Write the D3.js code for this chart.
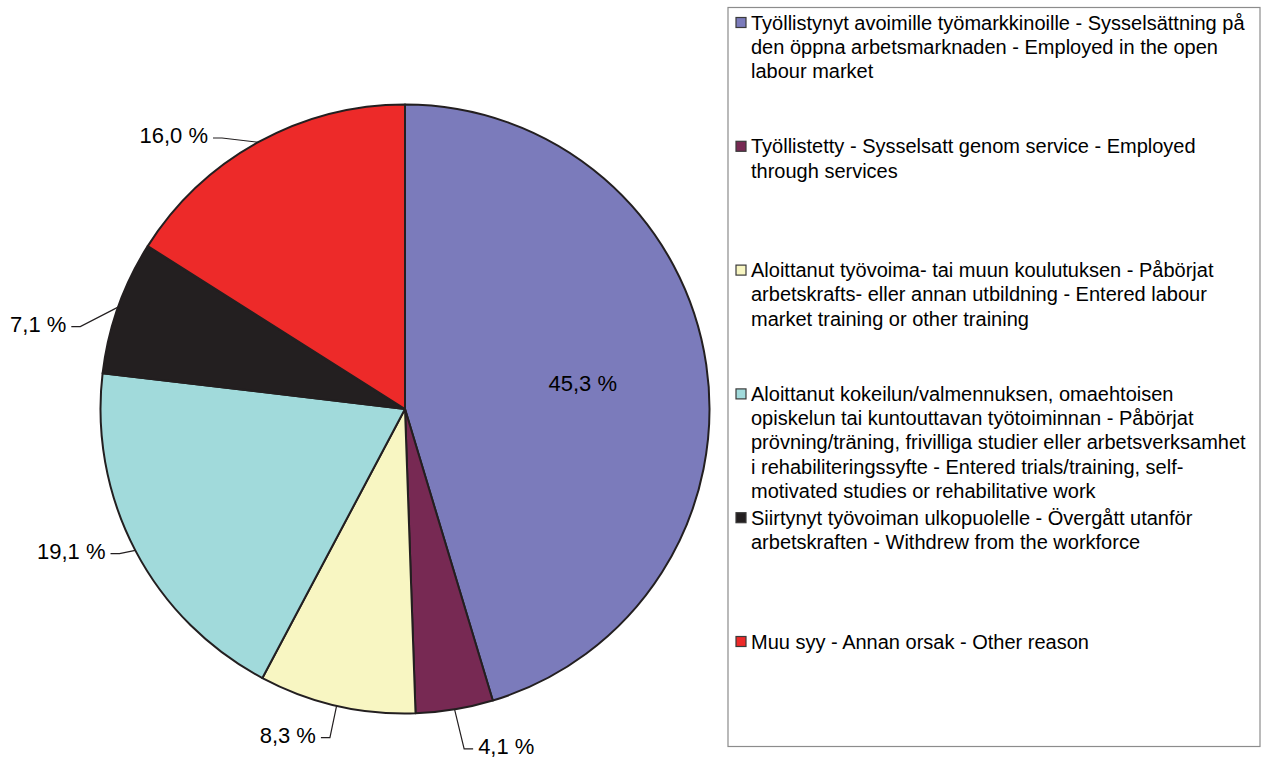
<!DOCTYPE html>
<html lang="fi">

<head>
    <meta charset="UTF-8" />
    <style>
        body { margin: 0; background: #fff; }
        text { font-family: Arial, "Liberation Sans", sans-serif; fill: #000; }
    </style>
</head>

<body>
    <svg width="1270" height="760"></svg>
    <script src="https://d3js.org/d3.v7.min.js"></script>
    <script>
        // categories, each already split into its legend lines
        var categories = [
            ["Työllistynyt avoimille työmarkkinoille - Sysselsättning på", "den öppna arbetsmarknaden - Employed in the open", "labour market"],
            ["Työllistetty - Sysselsatt genom service - Employed", "through services"],
            ["Aloittanut työvoima- tai muun koulutuksen - Påbörjat", "arbetskrafts- eller annan utbildning - Entered labour", "market training or other training"],
            ["Aloittanut kokeilun/valmennuksen, omaehtoisen", "opiskelun tai kuntouttavan työtoiminnan - Påbörjat", "prövning/träning, frivilliga studier eller arbetsverksamhet", "i rehabiliteringssyfte - Entered trials/training, self-", "motivated studies or rehabilitative work"],
            ["Siirtynyt työvoiman ulkopuolelle - Övergått utanför", "arbetskraften - Withdrew from the workforce"],
            ["Muu syy - Annan orsak - Other reason"]
        ];
        var values = [45.3, 4.1, 8.3, 19.1, 7.1, 16.0];
        var colors = ["#7b7bbb", "#772953", "#f8f6c2", "#a1dadb", "#231f20", "#ed2a29"];

        var svg = d3.select("svg");
        var cx = 405, cy = 409, r = 304.5;

        var pie = d3.pie().sort(null).value(function (d) { return d; });
        var arcs = pie(values);
        var arc = d3.arc().innerRadius(0).outerRadius(r);

        var g = svg.append("g").attr("transform", "translate(" + cx + "," + cy + ")");

        g.selectAll(".slice")
            .data(arcs)
            .enter().append("path")
            .attr("class", "slice")
            .attr("d", arc)
            .attr("fill", function (d, i) { return colors[i]; })
            .attr("stroke", "#231f20")
            .attr("stroke-width", 2)
            .attr("stroke-linejoin", "round");

        var fmt = function (v) { return d3.format(".1f")(v).replace(".", ",") + " %"; };

        // where Excel put the outside labels: radius of the leader bend and angle nudge (deg)
        var leader = [null, { r: 345, da: -0.5 }, { r: 337, da: -0.1 }, { r: 320, da: 0.8 }, { r: 335, da: -5.3 }, { r: 327, da: -5.2 }];

        function polar(rad, a) { return [rad * Math.sin(a), -rad * Math.cos(a)]; }

        arcs.forEach(function (d, i) {
            var mid = (d.startAngle + d.endAngle) / 2;
            if (!leader[i]) {
                var p = polar(r * 0.59, mid);
                g.append("text")
                    .attr("x", p[0]).attr("y", p[1] + 8)
                    .attr("text-anchor", "middle")
                    .style("font-size", "22px")
                    .text(fmt(d.data));
                return;
            }
            var L = leader[i];
            var e = polar(r, mid);
            var b = polar(L.r, mid + L.da * Math.PI / 180);
            var side = b[0] < 0 ? -1 : 1;
            var t = [b[0] + side * 9, b[1]];
            g.append("path")
                .attr("d", d3.line()([e, b, t]))
                .attr("fill", "none")
                .attr("stroke", "#231f20")
                .attr("stroke-width", 1.2);
            g.append("text")
                .attr("x", t[0] + side * 5).attr("y", b[1] + 5)
                .attr("text-anchor", side < 0 ? "end" : "start")
                .style("font-size", "22px")
                .text(fmt(d.data));
        });

        // legend
        var lx = 728, ly = 7.5, lw = 532, lh = 739;
        var legend = svg.append("g");
        legend.append("rect")
            .attr("x", lx).attr("y", ly).attr("width", lw).attr("height", lh)
            .attr("fill", "#fff").attr("stroke", "#8c8c8c").attr("stroke-width", 1.2);

        var slot = 123.8, lineH = 24.3;
        var item = legend.selectAll(".item")
            .data(categories)
            .enter().append("g")
            .attr("class", "item")
            .attr("transform", function (d, i) { return "translate(" + lx + "," + (ly + 15 + i * slot) + ")"; });

        item.append("rect")
            .attr("x", 8).attr("y", -5).attr("width", 10).attr("height", 10)
            .attr("fill", function (d, i) { return colors[i]; })
            .attr("stroke", "#3a3a3a").attr("stroke-width", 1.2);

        item.append("text")
            .style("font-size", "20px")
            .selectAll("tspan")
            .data(function (d) { return d; })
            .enter().append("tspan")
            .attr("x", 23)
            .attr("y", function (d, j) { return 7 + j * lineH; })
            .text(function (d) { return d; });
    </script>
</body>

</html>
